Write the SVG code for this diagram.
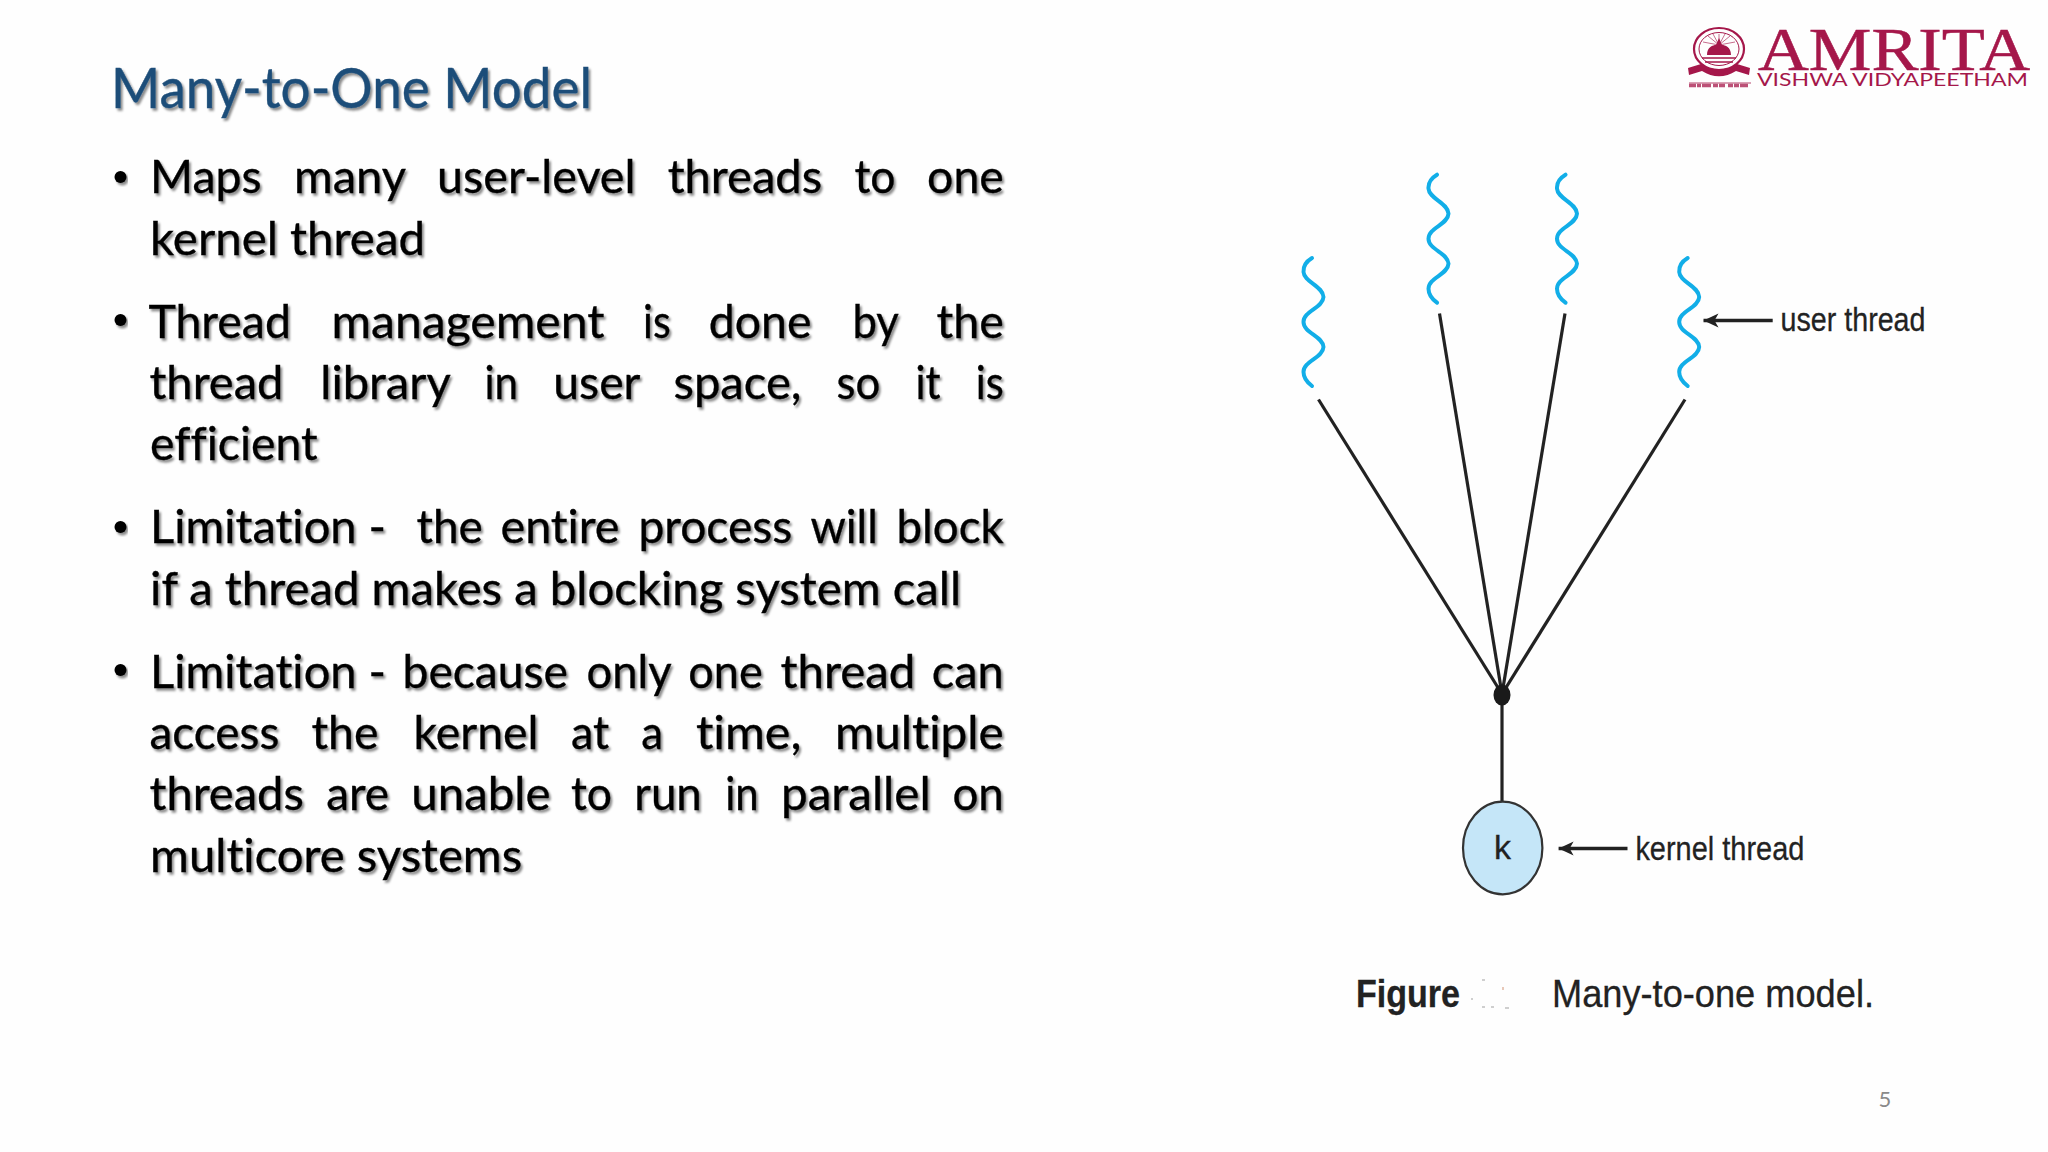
<svg xmlns="http://www.w3.org/2000/svg" width="2048" height="1152" viewBox="0 0 2048 1152">
<style>
.title{font-family:Lato,"Open Sans",sans-serif;font-size:56px;fill:#1f4e79;stroke:#1f4e79;stroke-width:.4;filter:url(#sh);font-variant-ligatures:none}
.body{font-family:Lato,"Open Sans",sans-serif;font-size:47px;fill:#000;stroke:#000;stroke-width:.35;filter:url(#sh);font-variant-ligatures:none}
.bul{fill:#000;filter:url(#sh)}
.wave{fill:none;stroke:#12aee8;stroke-width:4;stroke-linecap:round}
.ln{fill:none;stroke:#222;stroke-width:3.2}
.arr{fill:none;stroke:#222;stroke-width:3.6;marker-end:url(#ah)}
.lab{font-family:"Liberation Sans",Arial,sans-serif;font-size:34px;fill:#222;stroke:#222;stroke-width:.3}
.cap{font-family:"Liberation Sans",Arial,sans-serif;font-size:39px;fill:#222;stroke:#222;stroke-width:.3}
.logo{fill:#a5174a}
.logos{fill:none;stroke:#a5174a}
</style>
<defs>
<filter id="sh" x="-5%" y="-20%" width="110%" height="150%"><feDropShadow dx="2" dy="2.5" stdDeviation="1.3" flood-color="#000" flood-opacity="0.45"/></filter>
<marker id="ah" markerUnits="userSpaceOnUse" markerWidth="20" markerHeight="18" refX="15" refY="9" orient="auto"><path d="M15,9 L0,2 L4,9 L0,16 Z" fill="#222"/></marker>
<path id="w" class="wave" d="M1312,258 C1307,261 1303,266 1303.5,272 C1304,282 1323,286 1323.5,297 C1323,308 1303.5,311 1303.5,322 C1303.5,333 1323,336 1323.5,347 C1323,358 1303.5,361 1303.5,372 C1303.5,378 1308,383 1312,386"/>
</defs>
<rect width="2048" height="1152" fill="#fefefe"/>

<text id="title" class="title" x="111" y="108" textLength="481" lengthAdjust="spacingAndGlyphs">Many-to-One Model</text>

<g id="bullets">
<circle class="bul" cx="120.5" cy="177" r="6"/>
<circle class="bul" cx="120.5" cy="320" r="6"/>
<circle class="bul" cx="120.5" cy="527" r="6"/>
<circle class="bul" cx="120.5" cy="670" r="6"/>
</g>
<g id="body-text" transform="translate(-1.5,0)" lengthAdjust="spacingAndGlyphs">
<text class="body" y="193.3"><tspan x="151.6" textLength="111.4" lengthAdjust="spacingAndGlyphs">Maps</tspan> <tspan x="295.4" textLength="111" lengthAdjust="spacingAndGlyphs">many</tspan> <tspan x="438.6" textLength="198.4" lengthAdjust="spacingAndGlyphs">user-level</tspan> <tspan x="669.2" textLength="154.4" lengthAdjust="spacingAndGlyphs">threads</tspan> <tspan x="855.9" textLength="41" lengthAdjust="spacingAndGlyphs">to</tspan> <tspan x="928.6" textLength="76.7" lengthAdjust="spacingAndGlyphs">one</tspan></text>
<text class="body" x="151.6" y="255" textLength="275" lengthAdjust="spacingAndGlyphs">kernel thread</text>
<text class="body" y="338.3"><tspan x="149.9" textLength="142.6" lengthAdjust="spacingAndGlyphs">Thread</tspan> <tspan x="333" textLength="272.9" lengthAdjust="spacingAndGlyphs">management</tspan> <tspan x="644.6" textLength="27.6" lengthAdjust="spacingAndGlyphs">is</tspan> <tspan x="710.3" textLength="102.7" lengthAdjust="spacingAndGlyphs">done</tspan> <tspan x="854" textLength="45.3" lengthAdjust="spacingAndGlyphs">by</tspan> <tspan x="938" textLength="67.3" lengthAdjust="spacingAndGlyphs">the</tspan></text>
<text class="body" y="399.3"><tspan x="151" textLength="133.9" lengthAdjust="spacingAndGlyphs">thread</tspan> <tspan x="321.8" textLength="129.2" lengthAdjust="spacingAndGlyphs">library</tspan> <tspan x="486" textLength="33.6" lengthAdjust="spacingAndGlyphs">in</tspan> <tspan x="554.8" textLength="86.2" lengthAdjust="spacingAndGlyphs">user</tspan> <tspan x="675" textLength="128" lengthAdjust="spacingAndGlyphs">space,</tspan> <tspan x="838" textLength="43.7" lengthAdjust="spacingAndGlyphs">so</tspan> <tspan x="917" textLength="25" lengthAdjust="spacingAndGlyphs">it</tspan> <tspan x="977.3" textLength="28" lengthAdjust="spacingAndGlyphs">is</tspan></text>
<text class="body" x="151.6" y="460" textLength="167.5" lengthAdjust="spacingAndGlyphs">efficient</text>
<text class="body" y="543.3"><tspan x="151.6" textLength="236" lengthAdjust="spacingAndGlyphs">Limitation -</tspan> <tspan x="418" textLength="66.4" lengthAdjust="spacingAndGlyphs">the</tspan> <tspan x="502" textLength="119" lengthAdjust="spacingAndGlyphs">entire</tspan> <tspan x="640" textLength="153.7" lengthAdjust="spacingAndGlyphs">process</tspan> <tspan x="811.9" textLength="67.4" lengthAdjust="spacingAndGlyphs">will</tspan> <tspan x="898" textLength="107.3" lengthAdjust="spacingAndGlyphs">block</tspan></text>
<text class="body" x="151.6" y="605" textLength="811" lengthAdjust="spacingAndGlyphs">if a thread makes a blocking system call</text>
<text class="body" y="688.3"><tspan x="151.6" textLength="236" lengthAdjust="spacingAndGlyphs">Limitation -</tspan> <tspan x="404" textLength="165.5" lengthAdjust="spacingAndGlyphs">because</tspan> <tspan x="588" textLength="84" lengthAdjust="spacingAndGlyphs">only</tspan> <tspan x="689.8" textLength="74.5" lengthAdjust="spacingAndGlyphs">one</tspan> <tspan x="782" textLength="134.9" lengthAdjust="spacingAndGlyphs">thread</tspan> <tspan x="933.3" textLength="72" lengthAdjust="spacingAndGlyphs">can</tspan></text>
<text class="body" y="749.3"><tspan x="151" textLength="129.8" lengthAdjust="spacingAndGlyphs">access</tspan> <tspan x="313" textLength="67" lengthAdjust="spacingAndGlyphs">the</tspan> <tspan x="415" textLength="125" lengthAdjust="spacingAndGlyphs">kernel</tspan> <tspan x="572.4" textLength="38.2" lengthAdjust="spacingAndGlyphs">at</tspan> <tspan x="642.8" textLength="21.8" lengthAdjust="spacingAndGlyphs">a</tspan> <tspan x="697.4" textLength="105.6" lengthAdjust="spacingAndGlyphs">time,</tspan> <tspan x="836.5" textLength="168.8" lengthAdjust="spacingAndGlyphs">multiple</tspan></text>
<text class="body" y="810"><tspan x="151" textLength="154.4" lengthAdjust="spacingAndGlyphs">threads</tspan> <tspan x="327.7" textLength="62.8" lengthAdjust="spacingAndGlyphs">are</tspan> <tspan x="412.8" textLength="139.1" lengthAdjust="spacingAndGlyphs">unable</tspan> <tspan x="572.4" textLength="41.1" lengthAdjust="spacingAndGlyphs">to</tspan> <tspan x="635.8" textLength="67.5" lengthAdjust="spacingAndGlyphs">run</tspan> <tspan x="726.8" textLength="33.4" lengthAdjust="spacingAndGlyphs">in</tspan> <tspan x="782.5" textLength="149.7" lengthAdjust="spacingAndGlyphs">parallel</tspan> <tspan x="953.9" textLength="51.4" lengthAdjust="spacingAndGlyphs">on</tspan></text>
<text class="body" x="151.6" y="871.7" textLength="372" lengthAdjust="spacingAndGlyphs">multicore systems</text>
</g>

<g id="connectors">
<line class="ln" x1="1318.5" y1="399.5" x2="1502" y2="694"/>
<line class="ln" x1="1439.5" y1="313.5" x2="1502" y2="694"/>
<line class="ln" x1="1565" y1="313.5" x2="1502" y2="694"/>
<line class="ln" x1="1685" y1="399.5" x2="1502" y2="694"/>
<line class="ln" x1="1502" y1="694" x2="1502" y2="802"/>
<line class="arr" x1="1772.7" y1="320.5" x2="1703.5" y2="320.5"/>
<line class="arr" x1="1627.5" y1="848.5" x2="1558.6" y2="848.5"/>
</g>

<g id="thread-1"><use href="#w"/></g>
<g id="thread-2"><use href="#w" transform="translate(125,-83.3)"/></g>
<g id="thread-3"><use href="#w" transform="translate(253.5,-83.3)"/></g>
<g id="thread-4"><use href="#w" transform="translate(375.7,0)"/></g>
<g id="hub"><ellipse cx="1502" cy="695" rx="8.5" ry="10.5" fill="#1a1a1a"/></g>
<g id="kernel">
<ellipse cx="1502.7" cy="848" rx="39.7" ry="46.3" fill="#c5e6f8" stroke="#333" stroke-width="2.2"/>
<text class="lab" x="1502.5" y="859" text-anchor="middle">k</text>
</g>
<text id="label-user" class="lab" x="1780.5" y="330.7" textLength="145" lengthAdjust="spacingAndGlyphs">user thread</text>
<text id="label-kernel" class="lab" x="1635.4" y="860" textLength="169" lengthAdjust="spacingAndGlyphs">kernel thread</text>
<g id="caption">
<text class="cap" x="1356" y="1006.7" font-weight="700" textLength="104" lengthAdjust="spacingAndGlyphs">Figure</text>
<text class="cap" x="1552" y="1006.7" textLength="322" lengthAdjust="spacingAndGlyphs">Many-to-one model.</text>
<g fill="#cfcfcf">
<rect x="1482" y="979" width="3" height="2"/><rect x="1502" y="987" width="2" height="3" fill="#e8c8b8"/>
<rect x="1471" y="998" width="2" height="2"/><rect x="1482" y="1006" width="3" height="2"/><rect x="1491" y="1006" width="3" height="2"/><rect x="1505" y="1007" width="4" height="2"/>
</g>
</g>

<g id="logo">
<g id="seal">
<ellipse class="logos" cx="1719" cy="49" rx="25" ry="21" stroke-width="2.2"/>
<ellipse class="logos" cx="1719" cy="49" rx="20" ry="16.5" stroke-width="1"/>
<g class="logos" stroke-width="0.9" opacity="0.7">
<path d="M1719,45 L1719,34 M1719,45 L1708,36 M1719,45 L1730,36 M1719,45 L1703,42 M1719,45 L1735,42 M1719,45 L1713,34 M1719,45 L1725,34"/>
</g>
<path class="logo" d="M1707,55 C1707,47 1713,45 1716,45 L1719,38 L1722,45 C1725,45 1731,47 1731,55 Z"/>
<path class="logos" stroke-width="1.6" d="M1702,58 L1736,58 M1705,62 L1733,62"/>
<path class="logo" d="M1688,68 L1701,64 C1712,71 1726,71 1737,64 L1750,68 L1749,75 L1736,71 C1725,78 1713,78 1702,71 L1689,75 Z"/>
<path class="logos" stroke-width="3.5" stroke-dasharray="7 1 4 1 9 2 5 1 6 3 5 1 5 1 8" d="M1689,85.5 L1751,85.5" opacity="0.75"/>
<path class="logos" stroke-width="0.8" d="M1689,83 L1751,83"/>
</g>
<text class="logo" x="1758" y="70" stroke="#a5174a" stroke-width=".5" font-family="'Liberation Serif',serif" font-size="61" textLength="272" lengthAdjust="spacingAndGlyphs">AMRITA</text>
<text class="logo" x="1757" y="86" font-family="Lato,'Liberation Sans',sans-serif" font-size="18" textLength="271" lengthAdjust="spacingAndGlyphs">VISHWA VIDYAPEETHAM</text>
</g>

<text id="page-number" x="1885" y="1107" text-anchor="middle" font-family="Lato,sans-serif" font-size="22" fill="#8a8a8a">5</text>
</svg>
